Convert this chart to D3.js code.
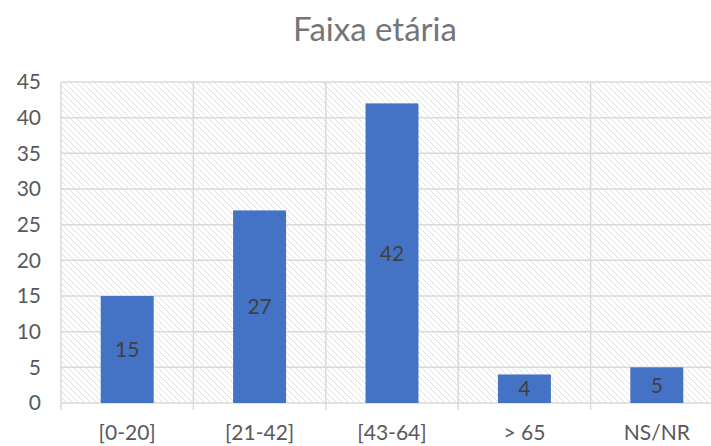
<!DOCTYPE html>
<html>
<head>
<meta charset="utf-8">
<script src="https://cdn.jsdelivr.net/npm/d3@7"></script>
<style>
  body { margin: 0; background: #fff; }
  svg { display: block; font-family: Lato, "Open Sans", sans-serif; }
</style>
</head>
<body>
<script>
// faixa etaria bar chart
const categories = ["[0-20]", "[21-42]", "[43-64]", "> 65", "NS/NR"];
const values = [15, 27, 42, 4, 5];
const yTicks = [0, 5, 10, 15, 20, 25, 30, 35, 40, 45];

const width = 711;
const height = 446;
const plotLeft = 61, plotRight = 723, plotTop = 82, plotBottom = 403;

const svg = d3.select("body").append("svg").attr("width", width).attr("height", height);

const defs = svg.append("defs");
const pat = defs.append("pattern")
  .attr("id", "hatch")
  .attr("patternUnits", "userSpaceOnUse")
  .attr("width", 6).attr("height", 6);
pat.append("path")
  .attr("d", "M-1,-1 L7,7 M-7,-1 L1,7 M5,-1 L13,7")
  .attr("stroke", "#e0e0e0")
  .attr("stroke-width", 1);

const x = d3.scaleBand().domain(categories).range([plotLeft, plotRight]).paddingInner(0.6).paddingOuter(0.3);
const xb = d3.scaleBand().domain(categories).range([plotLeft, plotRight]);
const y = d3.scaleLinear().domain([0, 45]).range([plotBottom, plotTop]);

svg.append("text")
  .attr("x", 375).attr("y", 41)
  .attr("text-anchor", "middle")
  .attr("fill", "#757575")
  .style("font-size", "33px")
  .text("Faixa etária");

svg.append("rect")
  .attr("x", plotLeft).attr("y", plotTop)
  .attr("width", plotRight - plotLeft).attr("height", plotBottom - plotTop)
  .attr("fill", "url(#hatch)");

// horizontal gridlines
svg.append("g")
  .selectAll("line")
  .data(yTicks)
  .enter()
  .append("line")
  .attr("x1", plotLeft).attr("x2", plotRight)
  .attr("y1", (d) => y(d)).attr("y2", (d) => y(d))
  .attr("stroke", "#d9d9d9")
  .attr("stroke-width", 1.5);

// vertical gridlines at category boundaries
svg.append("g")
  .selectAll("line")
  .data(categories)
  .enter()
  .append("line")
  .attr("x1", (d) => xb(d)).attr("x2", (d) => xb(d))
  .attr("y1", plotTop).attr("y2", plotBottom + 7)
  .attr("stroke", "#d9d9d9")
  .attr("stroke-width", 1.5);

svg.selectAll("rect.bar")
  .data(values)
  .enter()
  .append("rect")
  .attr("class", "bar")
  .attr("x", (d, i) => x(categories[i]))
  .attr("y", (d) => y(d))
  .attr("width", x.bandwidth())
  .attr("height", (d) => plotBottom - y(d))
  .attr("fill", "#4472c4");

svg.selectAll("text.val")
  .data(values)
  .enter()
  .append("text")
  .attr("class", "val")
  .attr("x", (d, i) => x(categories[i]) + x.bandwidth() / 2)
  .attr("y", (d) => (y(d) + plotBottom) / 2)
  .attr("dy", "0.35em")
  .attr("text-anchor", "middle")
  .attr("fill", "#404040")
  .style("font-size", "21px")
  .text((d) => d);

const yAxis = d3.axisLeft(y).tickValues(yTicks).tickSize(0).tickPadding(20);
const gy = svg.append("g").attr("transform", "translate(" + plotLeft + ",0)").call(yAxis);
gy.select(".domain").remove();
gy.selectAll("text").attr("fill", "#595959").style("font-size", "21px").style("font-family", "Lato, 'Open Sans', sans-serif");

const xAxis = d3.axisBottom(xb).tickSize(0).tickPadding(22);
const gx = svg.append("g").attr("transform", "translate(0," + plotBottom + ")").call(xAxis);
gx.select(".domain").remove();
gx.selectAll("text").attr("fill", "#595959").style("font-size", "21px").style("font-family", "Lato, 'Open Sans', sans-serif");
</script>
</body>
</html>
